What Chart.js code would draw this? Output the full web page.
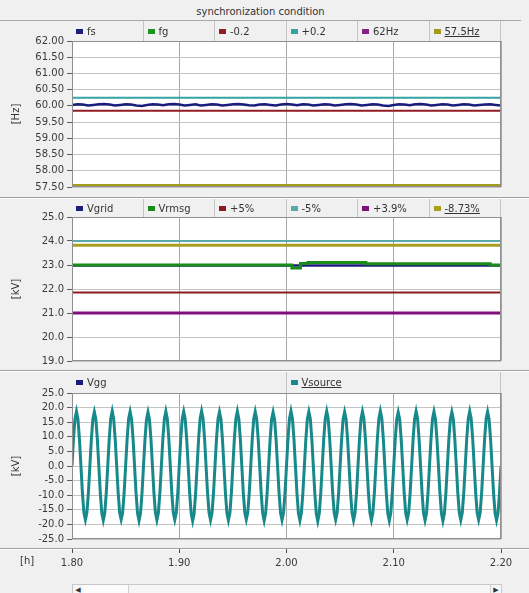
<!DOCTYPE html>
<html>
<head>
<meta charset="utf-8">
<title>synchronization condition</title>
<script src="https://cdn.jsdelivr.net/npm/chart.js@4.4.1/dist/chart.umd.min.js"></script>
<style>
  body { margin: 0; background: #f0f0f0; font-family: "DejaVu Sans", sans-serif; font-size: 10px; color: #333; }
  #wrap { position: relative; width: 529px; height: 593px; overflow: hidden; background: #f0f0f0; }
  .titlebar { position: absolute; left: 0; top: 0; width: 521px; height: 20px; border-bottom: 1px solid #a8a8a8; text-align: center; line-height: 24px; }
  canvas { position: absolute; left: 0; }
  .sep { position: absolute; left: 0; width: 529px; height: 1px; background: #a0a0a0; border-bottom: 1px solid #fff; }
  .legend { position: absolute; left: 72px; width: 429px; display: flex; }
  .legend div { flex: 1; border-right: 1px solid #c4c4c4; padding-left: 4px; white-space: nowrap; overflow: hidden; }
  .legend i { display: inline-block; width: 7px; height: 5px; margin-right: 4px; vertical-align: 1px; }
  .legend u { text-decoration: underline; }
  .hlabel { position: absolute; left: 20px; top: 555px; }
  .scroll { position: absolute; left: 72px; top: 584px; width: 428px; height: 12px; border: 1px solid #c8c8c8; background: #f6f6f6; }
  .scroll span { position: absolute; top: 0; height: 12px; border-right: 1px solid #d0d0d0; font-size: 7px; line-height: 11px; text-align: center; }
</style>
</head>
<body>
<div id="wrap">
  <div class="titlebar">synchronization condition</div>

  <canvas id="c1" width="529" height="176" style="top:21px"></canvas>
  <div class="legend" id="l1" style="top:21px;height:20px;line-height:21px"></div>
  <div class="sep" style="top:197px"></div>

  <canvas id="c2" width="529" height="171" style="top:199px"></canvas>
  <div class="legend" id="l2" style="top:199px;height:18px;line-height:19px"></div>
  <div class="sep" style="top:370px"></div>

  <canvas id="c3" width="529" height="176" style="top:372px"></canvas>
  <div class="legend" id="l3" style="top:372px;height:21px;line-height:22px"></div>
  <div class="sep" style="top:548px"></div>

  <canvas id="c4" width="529" height="34" style="top:546px"></canvas>
  <div class="hlabel">[h]</div>
  <div class="scroll">
    <span style="left:0;width:10px">&#9664;</span>
    <span style="left:10px;width:45px;background:#fbfbfb"></span>
    <span style="right:0;width:10px;border-right:none;border-left:1px solid #d0d0d0">&#9654;</span>
  </div>
</div>

<script>
// ejes
const timeTicks = [1.80, 1.90, 2.00, 2.10, 2.20];
const hzTicks = [57.5, 58.0, 58.5, 59.0, 59.5, 60.0, 60.5, 61.0, 61.5, 62.0];
const kvTicks = [19, 20, 21, 22, 23, 24, 25];
const waveTicks = [-25, -20, -15, -10, -5, 0, 5, 10, 15, 20, 25];

// panel 1 - frecuencia
const fsStep = 0.005;
const fsValues = [
  60.03, 60.05, 60.04, 60.01, 60.03, 60.05, 60.06, 60.04, 60.01, 60.03,
  60.05, 60.04, 60.01, 60.00, 60.03, 60.05, 60.04, 60.02, 60.05, 60.06,
  60.04, 60.01, 60.03, 60.05, 60.01, 60.03, 60.05, 60.04, 60.01, 60.03,
  60.05, 60.06, 60.04, 60.02, 60.01, 60.04, 60.05, 60.03, 60.01, 60.04,
  60.06, 60.04, 60.02, 60.05, 60.04, 60.01, 60.03, 60.05, 60.04, 60.01,
  60.03, 60.05, 60.06, 60.04, 60.01, 60.03, 60.05, 60.04, 60.01, 60.00,
  60.03, 60.05, 60.04, 60.02, 60.05, 60.06, 60.04, 60.01, 60.03, 60.05,
  60.04, 60.01, 60.03, 60.05, 60.04, 60.01, 60.03, 60.04, 60.05, 60.03,
  60.01
];
const fgValues = [];
const hzNames = ['fs', 'fg', '-0.2', '+0.2', '62Hz', '57.5Hz'];
const hzColors = ['#1c1c7c', '#1a941a', '#931c24', '#35a3a3', '#86208a', '#a29c1c'];
const hzLevels = [59.85, 60.25, 62.0, 57.55]; // -0.2, +0.2, 62Hz, 57.5Hz

// panel 2 - tension rms
const vrmsgTimes = [1.80, 2.005, 2.013, 2.020, 2.074, 2.190, 2.200];
const vrmsgValues = [23.00, 22.88, 23.06, 23.10, 23.05, 23.00, 23.00];
const vgridValues = [22.98, 22.98];
const kvNames = ['Vgrid', 'Vrmsg', '+5%', '-5%', '+3.9%', '-8.73%'];
const kvColors = ['#1c1c7c', '#1a8c1a', '#8c1a20', '#5aa8aa', '#80107e', '#a8a01c'];
const kvLevels = [21.85, 24.0, 21.0, 23.82]; // +5%, -5%, +3.9%, -8.73%

// panel 3 - forma de onda
const waveStep = 0.4 / 288;
const vsourceValues = [
  0.0, 9.3, 16.1, 18.7, 16.0, 9.2, 0.0, -9.3, -16.0, -18.4, -16.0, -9.2,
  0.0, 9.2, 16.0, 18.5, 16.1, 9.3, 0.0, -9.2, -16.1, -18.6, -16.1, -9.3,
  0.0, 9.3, 16.2, 18.8, 16.1, 9.2, 0.0, -9.2, -16.0, -18.3, -15.9, -9.2,
  0.0, 9.2, 16.1, 18.6, 16.0, 9.3, 0.0, -9.3, -16.2, -18.7, -16.1, -9.3,
  0.0, 9.1, 15.9, 18.4, 15.9, 9.2, 0.0, -9.2, -16.0, -18.5, -16.0, -9.2,
  0.0, 9.3, 16.1, 18.7, 16.1, 9.3, 0.0, -9.2, -16.0, -18.4, -16.0, -9.3,
  0.0, 9.2, 16.1, 18.6, 16.0, 9.2, 0.0, -9.3, -16.2, -18.8, -16.2, -9.3,
  0.0, 9.3, 16.2, 18.8, 16.2, 9.3, 0.0, -9.2, -16.0, -18.5, -16.0, -9.2,
  0.0, 9.2, 16.0, 18.5, 16.0, 9.2, 0.0, -9.3, -16.1, -18.6, -16.1, -9.2,
  0.0, 9.3, 16.1, 18.7, 16.1, 9.3, 0.0, -9.2, -15.9, -18.3, -15.9, -9.2,
  0.0, 9.2, 16.1, 18.6, 16.0, 9.2, 0.0, -9.3, -16.2, -18.7, -16.1, -9.3,
  0.0, 9.1, 15.9, 18.4, 15.9, 9.1, 0.0, -9.2, -16.0, -18.5, -16.0, -9.2,
  0.0, 9.3, 16.2, 18.8, 16.2, 9.3, 0.0, -9.2, -16.1, -18.6, -16.0, -9.2,
  0.0, 9.2, 16.1, 18.6, 16.1, 9.2, 0.0, -9.3, -16.3, -18.9, -16.2, -9.3,
  0.0, 9.3, 16.1, 18.7, 16.1, 9.3, 0.0, -9.2, -16.0, -18.4, -16.0, -9.2,
  0.0, 9.2, 16.0, 18.5, 16.0, 9.2, 0.0, -9.2, -16.1, -18.6, -16.1, -9.3,
  0.0, 9.2, 16.1, 18.6, 16.0, 9.2, 0.0, -9.2, -16.0, -18.5, -16.0, -9.2,
  0.0, 9.3, 16.2, 18.8, 16.2, 9.3, 0.0, -9.3, -16.2, -18.7, -16.1, -9.3,
  0.0, 9.1, 15.9, 18.4, 15.9, 9.1, 0.0, -9.2, -16.0, -18.4, -16.0, -9.2,
  0.0, 9.3, 16.1, 18.7, 16.1, 9.3, 0.0, -9.2, -16.1, -18.6, -16.1, -9.2,
  0.0, 9.2, 16.1, 18.6, 16.0, 9.2, 0.0, -9.3, -16.2, -18.8, -16.2, -9.3,
  0.0, 9.2, 16.0, 18.5, 16.0, 9.2, 0.0, -9.2, -16.0, -18.5, -16.0, -9.2,
  0.0, 9.3, 16.1, 18.7, 16.1, 9.3, 0.0, -9.2, -16.0, -18.4, -16.0, -9.2,
  0.0, 9.2, 16.1, 18.6, 16.0, 9.2, 0.0, -9.2, -16.1, -18.6, -16.1, -9.2,
  0.0
];
const vggValues = [];
const waveNames = ['Vgg', 'Vsource'];
const waveColors = ['#1c1c7c', '#17898a'];

const fuente = { family: '"DejaVu Sans", sans-serif', size: 10 };

// fondo blanco y marco del area de trazado
const marcoPlot = {
    id: 'marcoPlot',
    beforeDraw(chart) {
        const a = chart.chartArea, ctx = chart.ctx;
        ctx.save();
        ctx.fillStyle = '#ffffff';
        ctx.fillRect(a.left, a.top, a.right - a.left, a.bottom - a.top);
        ctx.restore();
    },
    afterDatasetsDraw(chart) {
        const a = chart.chartArea, ctx = chart.ctx;
        ctx.save();
        ctx.strokeStyle = '#8f8f8f';
        ctx.lineWidth = 1;
        ctx.strokeRect(Math.round(a.left) + 0.5, Math.round(a.top) + 0.5,
                       Math.round(a.right - a.left) - 1, Math.round(a.bottom - a.top) - 1);
        ctx.restore();
    }
};

function leyenda(id, nombres, colores) {
    const cont = document.getElementById(id);
    nombres.forEach(function(n, i) {
        const celda = document.createElement('div');
        const texto = i === nombres.length - 1 ? '<u>' + n + '</u>' : n;
        celda.innerHTML = '<i style="background:' + colores[i] + '"></i>' + texto;
        cont.appendChild(celda);
    });
}

function linea(label, puntos, color, ancho, extra) {
    return Object.assign({
        label: label,
        data: puntos,
        borderColor: color,
        borderWidth: ancho,
        pointRadius: 0,
        fill: false,
        tension: 0
    }, extra || {});
}

function nivel(label, valor, color, ancho) {
    return linea(label, [{x: 1.8, y: valor}, {x: 2.2, y: valor}], color, ancho);
}

function panel(id, datasets, yTicks, decimales, unidad, padTop, padBottom) {
    return new Chart(document.getElementById(id).getContext('2d'), {
        type: 'line',
        data: { datasets: datasets },
        plugins: [marcoPlot],
        options: {
            responsive: false,
            animation: false,
            events: [],
            layout: { padding: { left: 0, right: 28, top: padTop, bottom: padBottom } },
            plugins: { legend: { display: false }, tooltip: { enabled: false } },
            scales: {
                x: {
                    type: 'linear',
                    min: 1.8,
                    max: 2.2,
                    afterBuildTicks: s => { s.ticks = timeTicks.map(v => ({ value: v })); },
                    ticks: { display: false },
                    grid: { color: '#a8a8a8', drawTicks: false },
                    border: { display: false }
                },
                y: {
                    min: yTicks[0],
                    max: yTicks[yTicks.length - 1],
                    afterBuildTicks: s => { s.ticks = yTicks.map(v => ({ value: v })); },
                    afterFit: s => { s.width = 72; },
                    ticks: {
                        autoSkip: false,
                        padding: 3,
                        color: '#3a3a3a',
                        font: fuente,
                        callback: v => Number(v).toFixed(decimales)
                    },
                    grid: { color: '#c4c4c4', tickLength: 5, tickColor: '#606060' },
                    border: { display: false },
                    title: {
                        display: true,
                        text: unidad,
                        color: '#333',
                        font: fuente,
                        padding: { top: 10, bottom: 0 }
                    }
                }
            }
        }
    });
}

// panel 1
const fsPuntos = fsValues.map((v, i) => ({ x: 1.8 + i * fsStep, y: v }));
panel('c1', [
    linea(hzNames[0], fsPuntos, hzColors[0], 2.5, { order: 0 }),
    linea(hzNames[1], fgValues, hzColors[1], 2, { order: 1 }),
    nivel(hzNames[2], hzLevels[0], hzColors[2], 2),
    nivel(hzNames[3], hzLevels[1], hzColors[3], 2),
    Object.assign(nivel(hzNames[4], hzLevels[2], hzColors[4], 2), { clip: 0 }),
    nivel(hzNames[5], hzLevels[3], hzColors[5], 3)
], hzTicks, 2, '[Hz]', 20, 10);
leyenda('l1', hzNames, hzColors);

// panel 2
const vrmsgPuntos = vrmsgTimes.map((t, i) => ({ x: t, y: vrmsgValues[i] }));
panel('c2', [
    linea(kvNames[1], vrmsgPuntos, kvColors[1], 3, { stepped: true, order: 0 }),
    linea(kvNames[0], [{x: 1.8, y: vgridValues[0]}, {x: 2.2, y: vgridValues[1]}], kvColors[0], 2.5, { order: 1 }),
    nivel(kvNames[2], kvLevels[0], kvColors[2], 2),
    nivel(kvNames[3], kvLevels[1], kvColors[3], 2),
    nivel(kvNames[4], kvLevels[2], kvColors[4], 3),
    nivel(kvNames[5], kvLevels[3], kvColors[5], 3)
], kvTicks, 1, '[kV]', 18, 6);
leyenda('l2', kvNames, kvColors);

// panel 3
const vsourcePuntos = vsourceValues.map((v, i) => ({ x: 1.8 + i * waveStep, y: v }));
panel('c3', [
    linea(waveNames[0], vggValues, waveColors[0], 2),
    linea(waveNames[1], vsourcePuntos, waveColors[1], 3)
], waveTicks, 1, '[kV]', 21, 8);
leyenda('l3', waveNames, waveColors);

// eje de tiempo compartido
new Chart(document.getElementById('c4').getContext('2d'), {
    type: 'line',
    data: { datasets: [] },
    options: {
        responsive: false,
        animation: false,
        events: [],
        layout: { padding: { left: 72, right: 28, top: 1, bottom: 0 } },
        plugins: { legend: { display: false }, tooltip: { enabled: false } },
        scales: {
            x: {
                type: 'linear',
                min: 1.8,
                max: 2.2,
                afterBuildTicks: s => { s.ticks = timeTicks.map(v => ({ value: v })); },
                afterFit: s => { s.height = 31; },
                ticks: {
                    autoSkip: false,
                    maxRotation: 0,
                    padding: 4,
                    color: '#3a3a3a',
                    font: fuente,
                    callback: v => Number(v).toFixed(2)
                },
                grid: { drawOnChartArea: false, tickLength: 4, tickColor: '#505050' },
                border: { display: false }
            },
            y: { display: false }
        }
    }
});
</script>
</body>
</html>
